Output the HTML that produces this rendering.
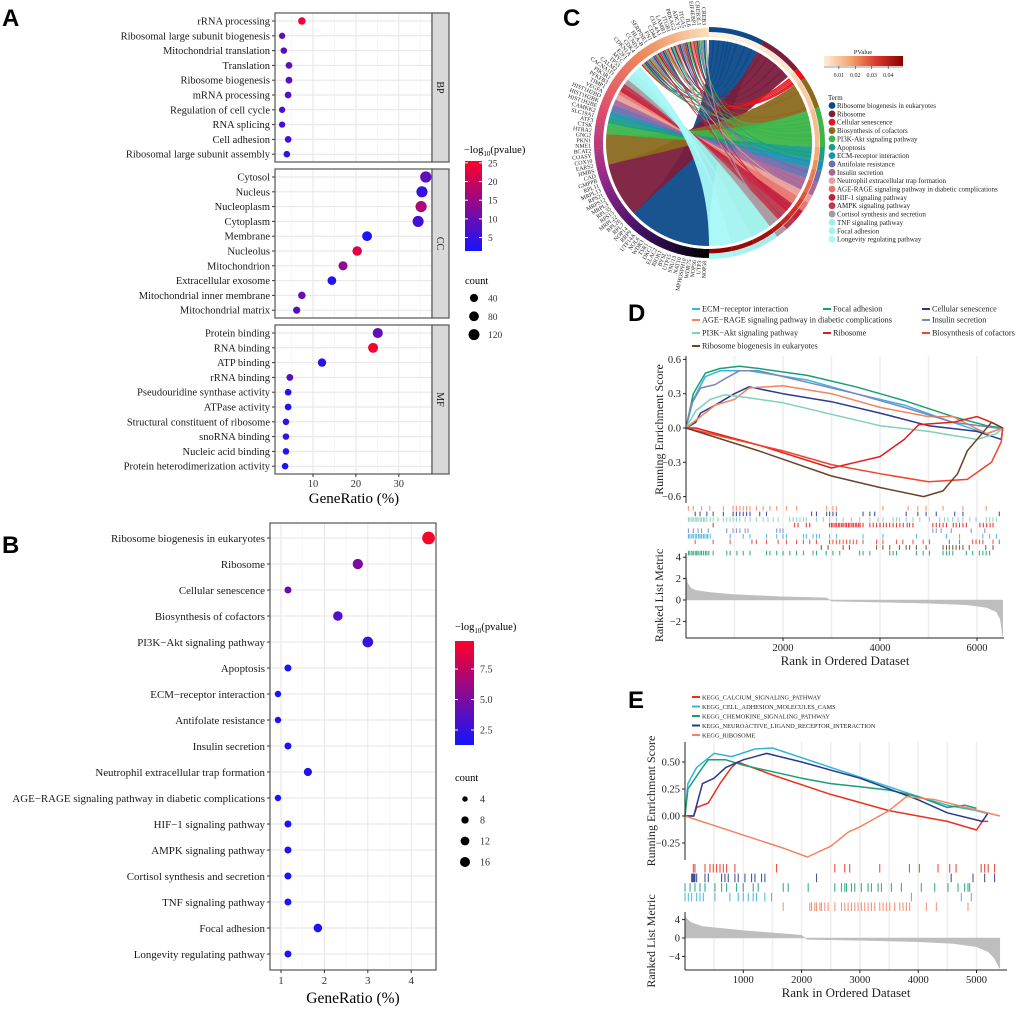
<!DOCTYPE html>
<html><head><meta charset="utf-8"><style>
html,body{margin:0;padding:0;background:#fff;}
svg{display:block;font-family:"Liberation Serif",serif;}
</style></head><body>
<svg id="fig" width="1020" height="1010" viewBox="0 0 1020 1010" xmlns="http://www.w3.org/2000/svg">
<g font-family="Liberation Sans, sans-serif" font-weight="bold" font-size="24" fill="#000">
<text x="2" y="26">A</text>
<text x="2" y="553">B</text>
<text x="563" y="26">C</text>
<text x="628" y="321">D</text>
<text x="628" y="708">E</text>
</g>
<g id="A"></g>
<g id="B"></g>
<g id="C"></g>
<g id="D"></g>
<g id="E"></g>
</svg>
<script>
// ---------- Panel A data ----------
const aFacets = ["BP","CC","MF"];
const aTerms = [
 ["rRNA processing","Ribosomal large subunit biogenesis","Mitochondrial translation","Translation","Ribosome biogenesis","mRNA processing","Regulation of cell cycle","RNA splicing","Cell adhesion","Ribosomal large subunit assembly"],
 ["Cytosol","Nucleus","Nucleoplasm","Cytoplasm","Membrane","Nucleolus","Mitochondrion","Extracellular exosome","Mitochondrial inner membrane","Mitochondrial matrix"],
 ["Protein binding","RNA binding","ATP binding","rRNA binding","Pseudouridine synthase activity","ATPase activity","Structural constituent of ribosome","snoRNA binding","Nucleic acid binding","Protein heterodimerization activity"]];
const aRatio = [
 [7.4,2.8,3.2,4.4,4.4,4.2,2.8,2.8,4.2,3.9],
 [36.3,35.4,35.2,34.5,22.6,20.3,17.0,14.4,7.4,6.2],
 [25.1,24.0,12.1,4.6,4.2,4.2,3.7,3.7,3.7,3.5]];
const aLogP = [
 [24,10,8,9,9,8,7,6,6,5],
 [9,5,17,6,2,22,14,3,10,8],
 [9,25,4,8,3,2,5,5,3,2]];
const aCount = [
 [27,10,12,16,16,15,10,10,15,14],
 [131,127,127,124,81,73,61,52,27,22],
 [90,86,44,17,15,15,13,13,13,13]];
const aXTicks = [10,20,30];
const aColorTicks = [5,10,15,20,25];
const aSizeTicks = [40,80,120];
// ---------- Panel B data ----------
const bTerms = ["Ribosome biogenesis in eukaryotes","Ribosome","Cellular senescence","Biosynthesis of cofactors","PI3K\u2212Akt signaling pathway","Apoptosis","ECM\u2212receptor interaction","Antifolate resistance","Insulin secretion","Neutrophil extracellular trap formation","AGE\u2212RAGE signaling pathway in diabetic complications","HIF\u22121 signaling pathway","AMPK signaling pathway","Cortisol synthesis and secretion","TNF signaling pathway","Focal adhesion","Longevity regulating pathway"];
const bRatio = [4.40,2.77,1.16,2.31,3.00,1.16,0.93,0.93,1.16,1.62,0.93,1.16,1.16,1.16,1.16,1.85,1.16];
const bLogP = [9.8,5.0,4.2,3.5,2.6,1.6,1.5,1.5,1.5,1.6,1.5,1.5,1.5,1.5,1.5,1.6,1.5];
const bCount = [19,12,5,10,13,5,4,4,5,7,4,5,5,5,5,8,5];
const bXTicks = [1,2,3,4];
const bColorTicks = [2.5,5.0,7.5];
const bSizeTicks = [4,8,12,16];
// ---------- Panel C data ----------
const cTerms = ["Ribosome biogenesis in eukaryotes","Ribosome","Cellular senescence","Biosynthesis of cofactors","PI3K-Akt signaling pathway","Apoptosis","ECM-receptor interaction","Antifolate resistance","Insulin secretion","Neutrophil extracellular trap formation","AGE-RAGE signaling pathway in diabetic complications","HIF-1 signaling pathway","AMPK signaling pathway","Cortisol synthesis and secretion","TNF signaling pathway","Focal adhesion","Longevity regulating pathway"];
const cColors = ["#0D4A8A","#7A1E3C","#E8141C","#8B6A1F","#3DB54A","#1A9E86","#1E90B0","#6A6FAF","#A8689A","#E8A09A","#E9756E","#C4203C","#B8384F","#A89A9E","#9EF0EA","#A5F2F2","#A8F8F8"];
const cRightStart = [0,28,50,56,72,92,99,104,110,117,121,126,132,138,144,156,168];
const cRightEnd   = [28,50,56,72,92,99,104,110,117,121,126,132,138,144,156,168,180];
const cLeftStart  = [180,227,0,258,275,281,285,288,292,295,298,300,303,305,308,311,314];
const cLeftEnd    = [227,258,0,275,281,285,288,292,295,298,300,303,305,308,311,314,318];
const cPValue = [0.001,0.003,0.006,0.009,0.012,0.016,0.02,0.023,0.026,0.029,0.032,0.035,0.038,0.041,0.044,0.046,0.048];
const cLinkLeft  = [319,320,321,322,323,324,325,326,327,328,329,330,331,332,333,334,335,336,337,338,339,340,341,342,343,344,345,346,347,348,349,350,351,352,353,354,355,356,357,358];
const cLinkRight = [54,75,2,30,95,52,80,112,5,128,85,40,53,100,8,135,78,55,118,12,88,45,140,54,15,106,70,130,20,82,34,124,51,60,24,97,115,86,10,142];
const cGenes = ["NOP58","UTP3","NOP56","WDR75","MPHOSPH10","NAT10","SNU13","UTP15","BYSL","RIOK1","ELAC2","DKC1","TSR1","WDR3","NOL6","UTP14A","RRP9","NOP14","RPL7","RPL26","MRPL22","RPS15","RPL35","MRPL3","MRPS12","RPS21","MRPL13","RPL11","GMPPB","CAD","HMBS","EARS2","COX10","COASY","BCAT2","NME1","PKN1","GNG2","HTRA2","CTSK","ATF3","SLC19A1","CAMKK2","HIST1H2BE","HIST1H2BK","HIST1H2BD","VEGFA","TIMP1","PFKFB3","PIK3R1","CACNA1D","CALM2","TP53","MYC","E2F1","CDKN1A","CDK4","CCND1","HLA-B","SERPINE1","FN1","CD44","COL4A1","LAMB1","ITGB1","PRKAG2","ADCY5","ITGA5","IL6","EIF4EBP1","CREB3L1","CREB3"];
const cPTicks = [0.01,0.02,0.03,0.04];
// ---------- Panel D data ----------
const dNames = ["ECM\u2212receptor interaction","Focal adhesion","Cellular senescence","AGE\u2212RAGE signaling pathway in diabetic complications","Insulin secretion","PI3K\u2212Akt signaling pathway","Ribosome","Biosynthesis of cofactors","Ribosome biogenesis in eukaryotes"];
const dColors = ["#3CB4E0","#1A9E77","#2B3A8B","#F4845F","#7C86B9","#7FD1B9","#E41A1C","#F0442B","#6B4226"];
const dRank = [
 [0,150,400,700,1300,2500,3500,4500,5500,6200,6530],
 [0,150,400,700,1100,1500,2500,3500,4500,5500,6200,6530],
 [0,200,300,600,1000,1300,2000,3000,4000,5000,6000,6500,6530],
 [0,300,600,1000,1300,2000,3000,4000,5000,5500,6200,6530],
 [0,100,300,600,800,1100,1500,2500,3500,4500,5500,6400,6530],
 [0,200,500,800,1200,2000,3000,4000,5000,6000,6400,6530],
 [0,200,1500,3000,3500,4000,4500,4800,5500,6000,6300,6530],
 [0,1000,2000,3000,4000,5000,5800,6300,6500,6530],
 [0,1500,3000,4000,4900,5300,5600,5800,6100,6300,6530]];
const dES = [
 [0,0.25,0.45,0.50,0.50,0.42,0.30,0.20,0.05,-0.05,0],
 [0,0.30,0.48,0.52,0.54,0.52,0.46,0.36,0.24,0.10,0.02,0],
 [0,0.05,0.13,0.20,0.30,0.36,0.30,0.23,0.13,0.02,-0.03,-0.10,0],
 [0,0.10,0.20,0.25,0.35,0.37,0.30,0.18,0.10,0.10,-0.05,0],
 [0,0.20,0.35,0.38,0.43,0.50,0.50,0.40,0.30,0.18,0.05,0,0],
 [0,0.15,0.25,0.29,0.27,0.22,0.12,0.02,-0.03,-0.10,-0.05,0],
 [0,0,-0.15,-0.35,-0.30,-0.25,-0.10,0.03,0.05,0.10,0.05,0],
 [0,-0.10,-0.20,-0.32,-0.40,-0.47,-0.45,-0.30,-0.12,0],
 [0,-0.20,-0.42,-0.52,-0.60,-0.55,-0.40,-0.20,-0.05,0.05,0]];
// rug rows (top to bottom): series index per row; dHits listed in the same row order
const dRugOrder = [3,2,5,6,4,0,7,8,1];
const dHits = [
 [50,150,320,490,770,970,1040,1110,1180,1250,1320,1450,1590,1730,1870,2070,2280,2900,3030,3100,4060,4580,4780,4950,5300,5710,6190],
 [190,290,430,560,770,970,1040,1110,1180,1250,1320,1520,1660,2590,2690,2900,2960,3030,3100,3650,3790,3890,4540,4780,4950,5160,5540,5710,6460],
 [50,80,120,150,190,220,250,290,320,360,390,430,500,560,660,770,840,910,970,1040,1110,1220,1320,1450,1590,1690,1800,1900,2140,2210,2280,2350,2420,2480,2690,2830,2960,3100,3240,3410,3580,3790,3960,4060,4270,4340,4400,4540,4680,4820,5020,5230,5330,5400,5500,5610,5710,5850,5980,6190,6260,6330,6400],
 [560,2240,2310,2480,2550,2960,3000,3030,3070,3100,3140,3170,3210,3240,3280,3310,3350,3380,3420,3450,3490,3520,3560,3590,3650,3790,3860,3930,4000,4070,4130,4200,4270,4340,4410,4480,4560,4610,4680,5090,5160,5230,5300,5370,5510,5570,5640,5710,5780,6060,6130,6200,6270,6330],
 [50,150,250,320,460,840,970,1040,1110,1220,1280,1870,1940,2000,5090,5160,5260,5470,5880,6160],
 [50,80,120,150,190,220,260,290,320,360,390,430,450,500,910,1180,1320,1660,1870,2000,2070,2420,2480,2620,2690,2750,2960,3100,3650,4060,4750,5370,5640,6120,6260,6400],
 [190,560,910,1360,1450,1660,1900,2070,2280,2420,2550,2690,2960,3030,3100,3170,3240,3310,3380,3450,3520,3650,3930,4060,4340,4470,4680,4890,5020,5430,5640,5910,5980,6050,6120,6330,6460],
 [2790,2930,3240,3370,3930,4060,4200,4400,4540,4610,4750,4950,5300,5370,5430,5500,5570,5640,5710,5840,6180,6330],
 [50,80,120,150,190,220,250,290,320,360,400,430,470,560,840,910,1050,1180,1320,1660,1730,1870,2000,2140,2280,2420,2620,2690,2890,3030,3170,3580,3650,3790,4200,4270,4340,4750,4890,5020,5300,5370,5430,5500,5780,5910,6050,6120,6190,6260]];
const dMetricRank = [0,30,100,200,500,1000,2000,2900,2950,3000,4000,5000,5800,6200,6400,6480,6530];
const dMetricVal  = [2.4,1.6,1.1,0.9,0.7,0.5,0.3,0.2,0.05,-0.1,-0.2,-0.3,-0.45,-0.7,-1.1,-1.8,-3.4];
const dESTicks = [-0.6,-0.3,0.0,0.3,0.6];
const dMetricTicks = [-2,0,2,4];
const dXTicks = [2000,4000,6000];
// ---------- Panel E data ----------
const eNames = ["KEGG_CALCIUM_SIGNALING_PATHWAY","KEGG_CELL_ADHESION_MOLECULES_CAMS","KEGG_CHEMOKINE_SIGNALING_PATHWAY","KEGG_NEUROACTIVE_LIGAND_RECEPTOR_INTERACTION","KEGG_RIBOSOME"];
const eColors = ["#E8321F","#33B5D9","#1A9E77","#263A8A","#F4845F"];
const eRank = [
 [0,150,200,400,600,800,900,1500,2500,3500,4500,5000,5100,5200],
 [0,50,200,500,800,1200,1500,2500,3500,4000,4500,5000,5200],
 [0,50,300,400,700,1000,1500,2000,2500,3000,3500,4000,4500,4800,5000],
 [0,150,300,500,700,1000,1400,2000,3000,4000,4500,5100,5200],
 [0,1700,2100,2500,2800,3000,3500,3800,4300,5400]];
const eES = [
 [0,0,0.08,0.12,0.30,0.45,0.50,0.38,0.20,0.05,-0.05,-0.13,-0.05,-0.05],
 [0,0.30,0.45,0.58,0.55,0.62,0.63,0.45,0.27,0.18,0.10,0.05,0.02],
 [0,0.25,0.45,0.52,0.52,0.47,0.41,0.35,0.30,0.27,0.24,0.18,0.08,0.10,0.07],
 [0,0,0.30,0.35,0.45,0.52,0.58,0.50,0.35,0.15,0.03,-0.05,0.03],
 [0,-0.30,-0.38,-0.28,-0.15,-0.10,0.05,0.18,0.15,0]];
const eHits = [
 [143,171,343,428,485,542,600,657,714,856,1570,2570,2740,2825,3340,3850,4020,4340,4540,4650,5080,5140,5200,5310],
 [114,130,143,157,171,200,343,400,628,685,742,856,913,1028,1142,1200,1313,1370,2256,4566,4940,5140,5310],
 [0,86,171,257,343,514,628,714,885,999,1170,1256,1685,1770,2113,2570,2684,2740,2770,2855,2912,3026,3140,3198,3312,3369,3540,3712,4054,4283,4511,4683,4797,4854,4883],
 [0,57,114,200,257,314,514,770,913,999,1085,1170,1227,1370,1484,3884,4740,4911],
 [1684,2141,2170,2227,2256,2313,2341,2398,2455,2570,2684,2741,2798,2855,2912,2969,3026,3083,3141,3198,3255,3340,3398,3455,3512,3597,3683,3740,3797,3854,4140,4311,4854]];
const eRugOrder = [0,3,2,1,4];
const eMetricRank = [0,100,300,1000,2000,2050,2100,3000,4000,4600,5000,5200,5300,5400];
const eMetricVal  = [4.6,3.4,2.5,1.6,0.6,0.1,-0.3,-0.5,-0.8,-1.2,-1.9,-3.0,-4.3,-6.6];
const eESTicks = [-0.25,0.00,0.25,0.50];
const eMetricTicks = [-4,0,4];
const eXTicks = [1000,2000,3000,4000,5000];

// ---------- helpers ----------
const NS="http://www.w3.org/2000/svg";
function mk(parent, tag, attrs, text){
  const el=document.createElementNS(NS,tag);
  for(const k in attrs) el.setAttribute(k,attrs[k]);
  if(text!==undefined) el.textContent=text;
  parent.appendChild(el); return el;
}
function mix(c1,c2,t){return "rgb("+c1.map((v,i)=>Math.round(v+(c2[i]-v)*t)).join(",")+")";}
function br(v,lo,hi){ const t=Math.max(0,Math.min(1,(v-lo)/(hi-lo))); return mix([20,20,255],[255,0,40],t); }

// ---------- Panel A ----------
(function(){
 const g=document.getElementById("A");
 const x0=275,x1=432,sx=x=>313+(x-10)*4.29;
 const fTop=[13,169,325],fH=149;
 const rAc=c=>2.2+Math.sqrt(c)*0.3;
 aFacets.forEach((f,fi)=>{
  const top=fTop[fi];
  const fg=mk(g,"g",{});
  
  
  mk(fg,"rect",{x:x0,y:top,width:x1-x0,height:fH,fill:"#fff"});
  [5,15,25,35].forEach(v=>mk(fg,"line",{x1:sx(v),x2:sx(v),y1:top,y2:top+fH,stroke:"#F2F2F2","stroke-width":0.6}));
  aXTicks.forEach(v=>mk(fg,"line",{x1:sx(v),x2:sx(v),y1:top,y2:top+fH,stroke:"#E6E6E6","stroke-width":1}));
  aTerms[fi].forEach((t,i)=>{
   const y=top+8+i*14.8;
   mk(fg,"line",{x1:x0,x2:x1,y1:y,y2:y,stroke:"#E6E6E6","stroke-width":1});
   mk(fg,"line",{x1:x0-3,x2:x0,y1:y,y2:y,stroke:"#333","stroke-width":1});
   const lb=mk(fg,"text",{x:x0-5,y:y+3.5,"text-anchor":"end","font-size":10.5,fill:"#1a1a1a"},t);
   
   
  });
  aTerms[fi].forEach((t,i)=>{
   const y=top+8+i*14.8;
   const c=mk(fg,"circle",{cx:sx(aRatio[fi][i]),cy:y,r:rAc(aCount[fi][i]),fill:br(aLogP[fi][i],1.4,25.5)});
   
   
  });
  mk(fg,"rect",{x:x0,y:top,width:x1-x0,height:fH,fill:"none",stroke:"#555","stroke-width":1.2});
  mk(fg,"rect",{x:x1,y:top,width:17,height:fH,fill:"#D9D9D9",stroke:"#555","stroke-width":1.2});
  const st=mk(fg,"text",{x:x1+8.5,y:top+fH/2,"text-anchor":"middle","font-size":10,fill:"#1a1a1a",transform:`rotate(90 ${x1+8.5} ${top+fH/2}) translate(0 3.5)`},f);
  
  
 });
 aXTicks.forEach(v=>{
  mk(g,"line",{x1:sx(v),x2:sx(v),y1:474,y2:477,stroke:"#333"});
  const t=mk(g,"text",{x:sx(v),y:487,"text-anchor":"middle","font-size":10.5,fill:"#333"},v);
  
  
 });
 const xt=mk(g,"text",{x:354,y:503,"text-anchor":"middle","font-size":15,fill:"#000"},"GeneRatio (%)");
 
 
 const lg=mk(g,"g",{});
 
 
 const tt=mk(lg,"text",{x:464,y:153,"font-size":10.5,fill:"#000"});
 mk(tt,"tspan",{},"\u2212log");mk(tt,"tspan",{"font-size":7,dy:3},"10");mk(tt,"tspan",{dy:-3},"(pvalue)");
 const defs=mk(g,"defs",{});
 const lgr=mk(defs,"linearGradient",{id:"gA",x1:0,y1:1,x2:0,y2:0});
 mk(lgr,"stop",{offset:0,"stop-color":br(0,0,1)});mk(lgr,"stop",{offset:1,"stop-color":br(1,0,1)});
 const cy0=161,cy1=251,cs=v=>cy1-(v-1.4)/(25.5-1.4)*(cy1-cy0);
 mk(lg,"rect",{x:465,y:cy0,width:17,height:cy1-cy0,fill:"url(#gA)"});
 aColorTicks.forEach(v=>{
  mk(lg,"line",{x1:465,x2:468,y1:cs(v),y2:cs(v),stroke:"#fff"});
  mk(lg,"line",{x1:479,x2:482,y1:cs(v),y2:cs(v),stroke:"#fff"});
  mk(lg,"text",{x:488,y:cs(v)+3.5,"font-size":9.5,fill:"#333"},v);
 });
 const sg=mk(g,"g",{});
 
 
 mk(sg,"text",{x:465,y:284,"font-size":10.5,fill:"#000"},"count");
 aSizeTicks.forEach((v,i)=>{
  const y=298+i*18.3;
  mk(sg,"circle",{cx:474,cy:y,r:rAc(v),fill:"#000"});
  mk(sg,"text",{x:488,y:y+3.5,"font-size":9.5,fill:"#333"},v);
 });
})();

// ---------- Panel B ----------
(function(){
 const g=document.getElementById("B");
 const x0=270,x1=436,y0=523,y1=970,sx=v=>281+(v-1)*43.4;
 const rB=c=>0.5+Math.sqrt(c)*1.35;
 mk(g,"rect",{x:x0,y:y0,width:x1-x0,height:y1-y0,fill:"#fff"});
 [1.5,2.5,3.5].forEach(v=>mk(g,"line",{x1:sx(v),x2:sx(v),y1:y0,y2:y1,stroke:"#F2F2F2","stroke-width":0.6}));
 bXTicks.forEach(v=>mk(g,"line",{x1:sx(v),x2:sx(v),y1:y0,y2:y1,stroke:"#E6E6E6","stroke-width":1}));
 bTerms.forEach((t,i)=>{
  const y=538+i*26;
  mk(g,"line",{x1:x0,x2:x1,y1:y,y2:y,stroke:"#E6E6E6","stroke-width":1});
  mk(g,"line",{x1:x0-3,x2:x0,y1:y,y2:y,stroke:"#333"});
  const lb=mk(g,"text",{x:x0-5,y:y+4,"text-anchor":"end","font-size":10.9,fill:"#1a1a1a"},t);
  
  
 });
 bTerms.forEach((t,i)=>{
  const c=mk(g,"circle",{cx:sx(bRatio[i]),cy:538+i*26,r:rB(bCount[i]),fill:br(bLogP[i],1.27,9.8)});
  
  
 });
 mk(g,"rect",{x:x0,y:y0,width:x1-x0,height:y1-y0,fill:"none",stroke:"#555","stroke-width":1.2});
 bXTicks.forEach(v=>{
  mk(g,"line",{x1:sx(v),x2:sx(v),y1:y1,y2:y1+3,stroke:"#333"});
  const t=mk(g,"text",{x:sx(v),y:y1+14,"text-anchor":"middle","font-size":11,fill:"#333"},v);
  
  
 });
 const xt=mk(g,"text",{x:353,y:1003,"text-anchor":"middle","font-size":15.5,fill:"#000"},"GeneRatio (%)");
 
 
 const lg=mk(g,"g",{});
 
 
 const tt=mk(lg,"text",{x:455,y:630,"font-size":10.5,fill:"#000"});
 mk(tt,"tspan",{},"\u2212log");mk(tt,"tspan",{"font-size":7,dy:3},"10");mk(tt,"tspan",{dy:-3},"(pvalue)");
 const defs=mk(g,"defs",{});
 const lgr=mk(defs,"linearGradient",{id:"gB",x1:0,y1:1,x2:0,y2:0});
 mk(lgr,"stop",{offset:0,"stop-color":br(0,0,1)});mk(lgr,"stop",{offset:1,"stop-color":br(1,0,1)});
 const cy0=641,cy1=745,cs=v=>cy1-(v-1.27)/(9.8-1.27)*(cy1-cy0);
 mk(lg,"rect",{x:455,y:cy0,width:19,height:cy1-cy0,fill:"url(#gB)"});
 bColorTicks.forEach(v=>{
  mk(lg,"line",{x1:455,x2:458,y1:cs(v),y2:cs(v),stroke:"#fff"});
  mk(lg,"line",{x1:471,x2:474,y1:cs(v),y2:cs(v),stroke:"#fff"});
  mk(lg,"text",{x:480,y:cs(v)+3.5,"font-size":10,fill:"#333"},v.toFixed(1));
 });
 const sg=mk(g,"g",{});
 
 
 mk(sg,"text",{x:455,y:781,"font-size":10.5,fill:"#000"},"count");
 bSizeTicks.forEach((v,i)=>{
  const y=799+i*21;
  mk(sg,"circle",{cx:465,cy:y,r:rB(v)*0.85,fill:"#000"});
  mk(sg,"text",{x:480,y:y+3.5,"font-size":10,fill:"#333"},v);
 });
})();

// ---------- Panel C ----------
(function(){
 const g=document.getElementById("C");
 const cx=709,cy=143,R=103;
 const P=(r,a)=>{const t=a*Math.PI/180;return [(cx+r*Math.sin(t)).toFixed(2),(cy-r*Math.cos(t)).toFixed(2)];};
 const arcSeg=(r1,r2,a1,a2)=>{const p1=P(r2,a1),p2=P(r2,a2),p3=P(r1,a2),p4=P(r1,a1);const lf=(a2-a1)>180?1:0;
  return `M${p1} A${r2},${r2} 0 ${lf} 1 ${p2} L${p3} A${r1},${r1} 0 ${lf} 0 ${p4} Z`;};
 const ribbon=(a1,a2,b1,b2)=>{const p1=P(R,a1),p2=P(R,a2),p3=P(R,b1),p4=P(R,b2);
  return `M${p1} A${R},${R} 0 0 1 ${p2} Q${cx},${cy} ${p3} A${R},${R} 0 0 1 ${p4} Q${cx},${cy} ${p1} Z`;};
 const pcol=p=>{const stops=[[253,240,220],[244,164,108],[217,55,42],[139,0,0]];const t=Math.max(0,Math.min(1,(p-0.001)/0.048))*3;const i=Math.min(2,Math.floor(t));return mix(stops[i],stops[i+1],t-i);};
 const rg=mk(g,"g",{"fill-opacity":0.95});
 cTerms.forEach((t,i)=>{
  if(cLeftEnd[i]<=cLeftStart[i]) return;
  const p=mk(rg,"path",{d:ribbon(cRightStart[i],cRightEnd[i],cLeftStart[i],cLeftEnd[i]),fill:cColors[i]});
  
  
 });
 cLinkLeft.forEach((l,k)=>{
  const r=cLinkRight[k];
  let ti=0; cRightStart.forEach((s,j)=>{if(r>=s) ti=j;});
  const p=mk(rg,"path",{d:ribbon(r,r+0.9,l,l+0.9),fill:cColors[ti]});
  
  
 });
 const gStops=[[0,0,0],[60,16,96],[150,40,140],[224,80,106],[240,138,90],[251,227,192]];
 for(let a=180;a<360;a+=1.5){
  const t=(a-180)/180*5;const i=Math.min(4,Math.floor(t));
  mk(g,"path",{d:arcSeg(106,115,a,a+1.6),fill:mix(gStops[i],gStops[i+1],t-i)});
 }
 cTerms.forEach((t,i)=>{
  const s=mk(g,"path",{d:arcSeg(111,116,cRightStart[i],cRightEnd[i]),fill:cColors[i]});
  
  
  mk(g,"path",{d:arcSeg(106,110.5,cRightStart[i],cRightEnd[i]),fill:pcol(cPValue[i])});
 });
 const n=cGenes.length;
 cGenes.forEach((gn,i)=>{
  const a=181+(i+0.5)*(178/n);const p=P(118,a);
  const t=mk(g,"text",{x:p[0],y:p[1],"text-anchor":"end","font-size":5.8,fill:"#222",transform:`rotate(${a-270} ${p[0]} ${p[1]}) translate(0 2)`},gn);
  
  
 });
 const lg=mk(g,"g",{});
 
 
 mk(lg,"text",{x:863,y:54,"text-anchor":"middle","font-size":6.5,fill:"#222"},"PValue");
 const defs=mk(g,"defs",{});
 const gr=mk(defs,"linearGradient",{id:"gC",x1:0,y1:0,x2:1,y2:0});
 [0,0.33,0.66,1].forEach((o,i)=>mk(gr,"stop",{offset:o,"stop-color":pcol(0.001+o*0.048)}));
 mk(lg,"rect",{x:824,y:56,width:79,height:10,fill:"url(#gC)"});
 mk(lg,"line",{x1:824,x2:903,y1:67,y2:67,stroke:"#333","stroke-width":0.6});
 cPTicks.forEach(v=>{const x=824+(v-0.001)/0.048*79;
  mk(lg,"line",{x1:x,x2:x,y1:66,y2:69,stroke:"#333","stroke-width":0.6});
  mk(lg,"text",{x:x,y:77,"text-anchor":"middle","font-size":6,fill:"#222"},v);});
 const tl=mk(g,"g",{});
 
 
 mk(tl,"text",{x:828,y:100,"font-size":7,fill:"#222"},"Term");
 cTerms.forEach((t,i)=>{
  const y=105.5+i*8.35;
  const e=mk(tl,"g",{});
  
  
  mk(e,"circle",{cx:832,cy:y,r:3.4,fill:cColors[i]});
  mk(e,"text",{x:837,y:y+2.5,"font-size":7,fill:"#222"},t);
 });
})();

// ---------- GSEA panel builder ----------
function gsea(id, cfg){
 const g=document.getElementById(id);
 const sx=r=>cfg.xl+(r-cfg.r0)*cfg.kx;
 const sy=v=>cfg.esZero-v*cfg.ky;
 const sm=v=>cfg.mZero-v*cfg.km;
 cfg.grid.forEach(r=>mk(g,"line",{x1:sx(r),x2:sx(r),y1:cfg.top,y2:cfg.bottom,stroke:"#EFEFEF","stroke-width":1.6}));
 cfg.names.forEach((n,i)=>{
  const e=mk(g,"g",{});
  
  
  const [lx,ly]=cfg.legPos[i];
  mk(e,"line",{x1:lx,x2:lx+8,y1:ly,y2:ly,stroke:cfg.colors[i],"stroke-width":2});
  mk(e,"text",{x:lx+10,y:ly+2.7,"font-size":cfg.legFont,fill:"#222"},n);
 });
 cfg.ranks.forEach((rs,i)=>{
  const pts=rs.map((r,k)=>sx(r).toFixed(1)+","+sy(cfg.es[i][k]).toFixed(1)).join(" ");
  const pl=mk(g,"polyline",{points:pts,fill:"none",stroke:cfg.colors[i],"stroke-width":1.5,"stroke-linejoin":"round"});
  
  
 });
 cfg.rugOrder.forEach((si,row)=>{
  const y=cfg.rugTop+row*cfg.rugStep;
  cfg.hits[row].forEach(r=>{
   const l=mk(g,"line",{x1:sx(r),x2:sx(r),y1:y,y2:y+cfg.rugStep-1,stroke:cfg.colors[si],"stroke-width":1.1,opacity:0.85});
   
   
  });
 });
 const mp=[sx(cfg.mRank[0])+","+sm(0)].concat(cfg.mRank.map((r,k)=>sx(r).toFixed(1)+","+sm(cfg.mVal[k]).toFixed(1))).concat([sx(cfg.mRank[cfg.mRank.length-1])+","+sm(0)]).join(" ");
 const ar=mk(g,"polygon",{points:mp,fill:"#BEBEBE",stroke:"#BEBEBE","stroke-width":0.5});
 
 
 mk(g,"line",{x1:cfg.xl,x2:cfg.xl,y1:cfg.top,y2:cfg.esBottom,stroke:"#222","stroke-width":1});
 mk(g,"line",{x1:cfg.xl,x2:cfg.xl,y1:cfg.mTop,y2:cfg.bottom,stroke:"#222","stroke-width":1});
 mk(g,"line",{x1:cfg.xl,x2:cfg.xr,y1:cfg.bottom,y2:cfg.bottom,stroke:"#222","stroke-width":1});
 cfg.esTicks.forEach(v=>{
  mk(g,"line",{x1:cfg.xl-3,x2:cfg.xl,y1:sy(v),y2:sy(v),stroke:"#222"});
  mk(g,"text",{x:cfg.xl-5,y:sy(v)+3.5,"text-anchor":"end","font-size":cfg.tickFont,fill:"#222"},v.toFixed(cfg.esDec).replace("-","\u2212"));
 });
 cfg.mTicks.forEach(v=>{
  mk(g,"line",{x1:cfg.xl-3,x2:cfg.xl,y1:sm(v),y2:sm(v),stroke:"#222"});
  mk(g,"text",{x:cfg.xl-5,y:sm(v)+3.5,"text-anchor":"end","font-size":cfg.tickFont,fill:"#222"},String(v).replace("-","\u2212"));
 });
 cfg.xTicks.forEach(v=>{
  mk(g,"line",{x1:sx(v),x2:sx(v),y1:cfg.bottom,y2:cfg.bottom+3,stroke:"#222"});
  mk(g,"text",{x:sx(v),y:cfg.bottom+13,"text-anchor":"middle","font-size":cfg.tickFont,fill:"#222"},v);
 });
 const xt=mk(g,"text",{x:(cfg.xl+cfg.xr)/2,y:cfg.bottom+27,"text-anchor":"middle","font-size":13,fill:"#222"},"Rank in Ordered Dataset");
 
 
 const y1=(cfg.top+cfg.esBottom)/2, y2=(cfg.mTop+cfg.bottom)/2;
 const t1=mk(g,"text",{x:cfg.ytx,y:y1,"text-anchor":"middle","font-size":12,fill:"#222",transform:`rotate(-90 ${cfg.ytx} ${y1})`},"Running Enrichment Score");
 
 
 const t2=mk(g,"text",{x:cfg.ytx,y:y2,"text-anchor":"middle","font-size":12,fill:"#222",transform:`rotate(-90 ${cfg.ytx} ${y2})`},"Ranked List Metric");
 
 
}
gsea("D",{names:dNames,colors:dColors,ranks:dRank,es:dES,hits:dHits,rugOrder:dRugOrder,mRank:dMetricRank,mVal:dMetricVal,
 esTicks:dESTicks,mTicks:dMetricTicks,xTicks:dXTicks,esDec:1,
 xl:686,xr:1004,r0:0,kx:97/2000,esZero:428,ky:34.3/0.3,mZero:600,km:10.7,
 top:356,esBottom:503,rugTop:506,rugStep:5.6,mTop:553,bottom:638,
 grid:[1000,2000,3000,4000,5000,6000],ytx:663,tickFont:10.5,legFont:8.2,
 legPos:[[692,309],[823,309],[922,309],[692,320],[922,320],[692,333],[823,333],[922,333],[692,346]]});
gsea("E",{names:eNames,colors:eColors,ranks:eRank,es:eES,hits:eHits,rugOrder:eRugOrder,mRank:eMetricRank,mVal:eMetricVal,
 esTicks:eESTicks,mTicks:eMetricTicks,xTicks:eXTicks,esDec:2,
 xl:685,xr:1007,r0:0,kx:58.3/1000,esZero:816,ky:27/0.25,mZero:938,km:4.6,
 top:742,esBottom:860,rugTop:864,rugStep:9.6,mTop:912,bottom:970,
 grid:[500,1000,1500,2000,2500,3000,3500,4000,4500,5000],ytx:655,tickFont:10.5,legFont:6.3,
 legPos:[[692,697],[692,706.5],[692,716],[692,725.5],[692,735]]});
</script>
</body></html>
